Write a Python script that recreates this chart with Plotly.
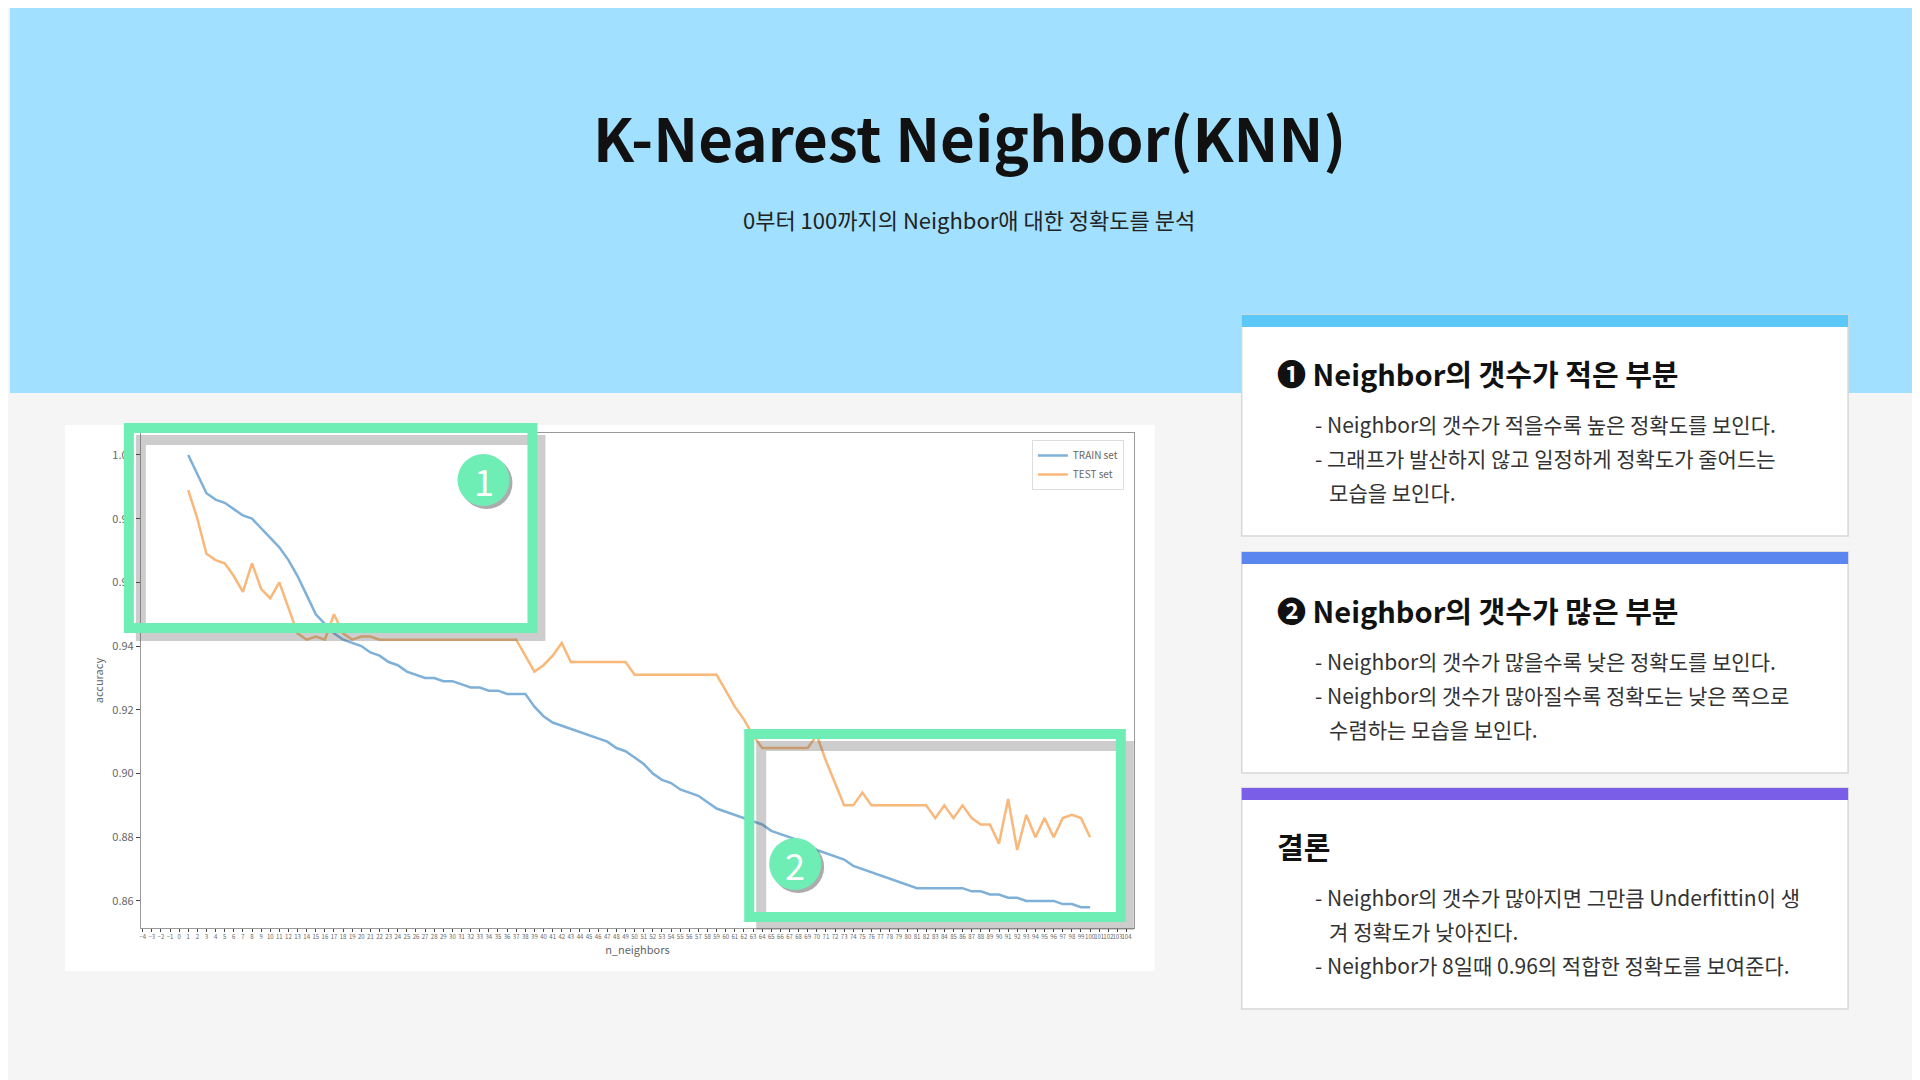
import plotly.graph_objects as go

W, H = 1920, 1080

n_neighbors = list(range(1, 101))

train_acc = [
    1.000, 0.994, 0.988, 0.986, 0.985, 0.983, 0.981, 0.980, 0.977, 0.974,
    0.971, 0.967, 0.962, 0.956, 0.950, 0.947, 0.944, 0.942, 0.941, 0.940,
    0.938, 0.937, 0.935, 0.934, 0.932, 0.931, 0.930, 0.930, 0.929, 0.929,
    0.928, 0.927, 0.927, 0.926, 0.926, 0.925, 0.925, 0.925, 0.921, 0.918,
    0.916, 0.915, 0.914, 0.913, 0.912, 0.911, 0.910, 0.908, 0.907, 0.905,
    0.903, 0.900, 0.898, 0.897, 0.895, 0.894, 0.893, 0.891, 0.889, 0.888,
    0.887, 0.886, 0.885, 0.884, 0.882, 0.881, 0.880, 0.879, 0.877, 0.876,
    0.875, 0.874, 0.873, 0.871, 0.870, 0.869, 0.868, 0.867, 0.866, 0.865,
    0.864, 0.864, 0.864, 0.864, 0.864, 0.864, 0.863, 0.863, 0.862, 0.862,
    0.861, 0.861, 0.860, 0.860, 0.860, 0.860, 0.859, 0.859, 0.858, 0.858,
]

test_acc = [
    0.989, 0.980, 0.969, 0.967, 0.966, 0.962, 0.957, 0.966, 0.958, 0.955,
    0.960, 0.952, 0.944, 0.942, 0.943, 0.942, 0.950, 0.944, 0.942, 0.943,
    0.943, 0.942, 0.942, 0.942, 0.942, 0.942, 0.942, 0.942, 0.942, 0.942,
    0.942, 0.942, 0.942, 0.942, 0.942, 0.942, 0.942, 0.937, 0.932, 0.934,
    0.937, 0.941, 0.935, 0.935, 0.935, 0.935, 0.935, 0.935, 0.935, 0.931,
    0.931, 0.931, 0.931, 0.931, 0.931, 0.931, 0.931, 0.931, 0.931, 0.926,
    0.921, 0.917, 0.912, 0.908, 0.908, 0.908, 0.908, 0.908, 0.908, 0.912,
    0.904, 0.897, 0.890, 0.890, 0.894, 0.890, 0.890, 0.890, 0.890, 0.890,
    0.890, 0.890, 0.886, 0.890, 0.886, 0.890, 0.886, 0.884, 0.884, 0.878,
    0.892, 0.876, 0.887, 0.880, 0.886, 0.880, 0.886, 0.887, 0.886, 0.880,
]

y_ticks = [0.86, 0.88, 0.90, 0.92, 0.94, 0.96, 0.98, 1.00]

title = "K-Nearest Neighbor(KNN)"
subtitle = "0부터 100까지의 Neighbor애 대한 정확도를 분석"

cards = [
    ("❶ Neighbor의 갯수가 적은 부분", "#5bc8f8",
     ["- Neighbor의 갯수가 적을수록 높은 정확도를 보인다.",
      "- 그래프가 발산하지 않고 일정하게 정확도가 줄어드는",
      "  모습을 보인다."]),
    ("❷ Neighbor의 갯수가 많은 부분", "#5b86f0",
     ["- Neighbor의 갯수가 많을수록 낮은 정확도를 보인다.",
      "- Neighbor의 갯수가 많아질수록 정확도는 낮은 쪽으로",
      "  수렴하는 모습을 보인다."]),
    ("결론", "#7b5ee8",
     ["- Neighbor의 갯수가 많아지면 그만큼 Underfittin이 생",
      "  겨 정확도가 낮아진다.",
      "- Neighbor가 8일때 0.96의 적합한 정확도를 보여준다."]),
]

FONT = "Noto Sans CJK KR"


def px(x):
    return x / W


def py(y):
    return 1 - y / H


def note(x, y, text, size, color, xanchor="center", bold=False):
    return dict(xref="paper", yref="paper", x=px(x), y=py(y), showarrow=False,
                text=f"<b>{text}</b>" if bold else text, xanchor=xanchor, yanchor="middle",
                font=dict(family=FONT, size=size, color=color))


fig = go.Figure()
fig.add_trace(go.Scatter(x=n_neighbors, y=train_acc, mode="lines", name="TRAIN set",
                         line=dict(color="#7fb0d8", width=2.5)))
fig.add_trace(go.Scatter(x=n_neighbors, y=test_acc, mode="lines", name="TEST set",
                         line=dict(color="#f9b87a", width=2.5)))

shapes = []
annotations = []

# backgrounds
shapes.append(dict(type="rect", xref="paper", yref="paper", x0=0, x1=1, y0=py(385), y1=1,
                   fillcolor="#a1e0fe", line_width=0, layer="below"))
shapes.append(dict(type="rect", xref="paper", yref="paper", x0=px(55), x1=px(1146), y0=py(963), y1=py(417),
                   fillcolor="white", line_width=0, layer="below"))

# highlight boxes
for (x0, y0, x1, y1) in [(119, 420, 523, 620), (740, 726, 1112, 909)]:
    shapes.append(dict(type="rect", xref="paper", yref="paper", x0=px(x0 + 12), x1=px(x1 + 8),
                       y0=py(y1 + 8), y1=py(y0 + 12), line=dict(color="rgba(90,90,90,0.3)", width=10)))
    shapes.append(dict(type="rect", xref="paper", yref="paper", x0=px(x0), x1=px(x1),
                       y0=py(y1), y1=py(y0), line=dict(color="#6eeeb5", width=10)))

for (cx, cy, label) in [(475, 473, "1"), (787, 857, "2")]:
    shapes.append(dict(type="circle", xref="paper", yref="paper", x0=px(cx - 24), x1=px(cx + 28),
                       y0=py(cy + 28), y1=py(cy - 24), fillcolor="rgba(90,90,90,0.5)", line_width=0))
    shapes.append(dict(type="circle", xref="paper", yref="paper", x0=px(cx - 27), x1=px(cx + 25),
                       y0=py(cy + 25), y1=py(cy - 27), fillcolor="#6eeeb5", line_width=0))
    annotations.append(note(cx - 1, cy - 1, label, 36, "white"))

# cards
card_tops = [307, 544, 780]
for (head, color, lines), top in zip(cards, card_tops):
    shapes.append(dict(type="rect", xref="paper", yref="paper", x0=px(1233), x1=px(1840),
                       y0=py(top + 221), y1=py(top), fillcolor="white", line=dict(color="#d8d8d8", width=1.5)))
    shapes.append(dict(type="rect", xref="paper", yref="paper", x0=px(1233), x1=px(1840),
                       y0=py(top + 12), y1=py(top), fillcolor=color, line_width=0))
    annotations.append(note(1266, top + 58, head, 29, "#111", xanchor="left", bold=True))
    for k, line in enumerate(lines):
        annotations.append(note(1304, top + 109 + 34 * k, line.replace("  ", "&nbsp;&nbsp;&nbsp;"),
                                21, "#333", xanchor="left"))

annotations.append(note(960, 128, title, 60, "#111", bold=True))
annotations.append(note(960, 211, subtitle, 22, "#222"))

fig.update_layout(
    width=W, height=H,
    margin=dict(l=0, r=0, t=0, b=0),
    paper_bgcolor="#f5f5f5",
    plot_bgcolor="white",
    shapes=shapes,
    annotations=annotations,
    font=dict(family=FONT),
    xaxis=dict(domain=[px(131), px(1125)], range=[-4.2, 104.8], tickmode="linear", tick0=0, dtick=1,
               tickfont=dict(size=6, color="#666"), tickangle=0, showgrid=False, showline=True,
               linecolor="#999", mirror=True, ticks="outside", ticklen=3,
               title=dict(text="n_neighbors", font=dict(size=11, color="#666"), standoff=4)),
    yaxis=dict(domain=[py(920), py(425)], range=[0.8515, 1.0069], tickvals=y_ticks,
               ticktext=[f"{v:.2f}" for v in y_ticks], tickfont=dict(size=11, color="#666"),
               showgrid=False, showline=True, linecolor="#999", mirror=True, ticks="outside", ticklen=4,
               title=dict(text="accuracy", font=dict(size=11, color="#666"), standoff=6)),
    legend=dict(x=px(1115), y=py(432), xanchor="right", yanchor="top", bgcolor="white",
                bordercolor="#ddd", borderwidth=1, font=dict(size=10, color="#666")),
)

fig.write_html("out.html")
